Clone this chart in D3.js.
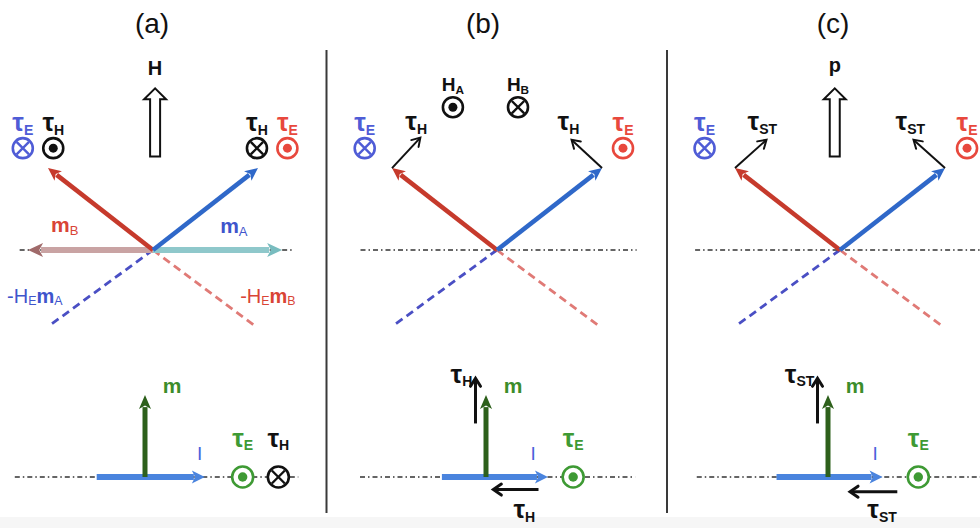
<!DOCTYPE html>
<html>
<head>
<meta charset="utf-8">
<script src="https://cdn.jsdelivr.net/npm/d3@7"></script>
<style>
  body { margin: 0; background: #fff; }
  svg { display: block; }
</style>
</head>
<body>
<svg id="fig" width="980" height="528"></svg>
<script>
// ---------------------------------------------------------------
// Vector geometry, in diagram units (1 unit = horizontal reach of a
// sublattice moment; y points up). Each panel has its own frame.
// ---------------------------------------------------------------
const panelNames = ["(a)", "(b)", "(c)"];

// sublattice moments and the exchange fields acting on them
const mA = [1.0, 0.78];
const mB = [-1.0, 0.78];
const hExA = [-1.0, -0.73];   // -H_E m_A
const hExB = [0.98, -0.73];   // -H_E m_B

// panel (a): canted moments folded onto the easy axis
const foldedX = [-1.19, 1.23];

// easy-axis extent in each panel (top row)
const topAxisSpan = [[-1.27, 1.33], [-1.30, 1.33], [-1.38, 1.33]];

// out-of-plane torque symbols, top row
const tauEBlueX = [-1.24, -1.26, -1.29];   // into the page
const tauERedX  = [1.28, 1.20, 1.21];      // out of the page
const tauHSymX  = [-0.95, 0.99];           // panel (a): out on B, into on A
const hFieldX   = [-0.42, 0.20];           // panel (b): H_A out, H_B into

// in-plane torques from the moment tips, panels (b) and (c)
const torqueEndL = [[-0.73, 1.07], [-0.70, 1.05]];
const torqueEndR = [[0.71, 1.05], [0.70, 1.05]];
const torqueName = ["H", "ST"];

// hollow arrows: applied field H in (a), polarisation p in (c)
const hollowX = [0.02, -0.05];
const hollowY = [0.89, 1.54];

// bottom row: net moment m, current I and torques
const mLength = 0.78;
const currentSpan = [[-0.46, 0.57], [-0.42, 0.59], [-0.49, 0.52]];
const botAxisSpan = [[-1.24, 1.46], [-1.20, 1.42], [-1.25, 1.45]];
const tauEGreenX = [0.93, 0.83, 0.86];
const tauHBottomX = 1.27;                          // panel (a)
const perpTorque = [-0.10, 0.51, 0.94];            // x, y from, y to
const backTorque = [[0.50, 0.07, -0.12], [0.66, 0.21, -0.14]]; // x from, x to, y

// ---------------------------------------------------------------
// Layout and styles
// ---------------------------------------------------------------
const U = 105;
const topAnchor = [[153, 250], [497, 250], [840, 250]];
const botAnchor = [[145, 477], [486, 477], [828, 477]];
const titleX = [152, 483, 833];
const dividerX = [326.5, 667];
const FONT = "'Liberation Sans', Arial, Helvetica, sans-serif";

const C = {
  red: "#c63a2c", blue: "#2f68c9",
  redLab: "#d94436", blueLab: "#3f55cc",
  redSym: "#e8483d", blueSym: "#4f5cd6",
  redDash: "#e07a76", blueDash: "#4a4fc4",
  green: "#2d601b", greenLab: "#3c8d2b", greenSym: "#3e9a34",
  cur: "#4a84de", curLab: "#4a62dc", ink: "#111"
};

const svg = d3.select("#fig");

function frame([ax, ay]) {
  return {
    x: d3.scaleLinear().domain([0, 1]).range([ax, ax + U]),
    y: d3.scaleLinear().domain([0, 1]).range([ay, ay - U])
  };
}

function solidArrow(g, x1, y1, x2, y2, o) {
  const dx = x2 - x1, dy = y2 - y1, L = Math.hypot(dx, dy);
  const ux = dx / L, uy = dy / L;
  const bx = x2 - ux * o.len, by = y2 - uy * o.len;
  g.append("line")
    .attr("x1", x1).attr("y1", y1)
    .attr("x2", bx + ux * 2).attr("y2", by + uy * 2)
    .attr("stroke", o.color).attr("stroke-width", o.width)
    .attr("opacity", o.opacity || 1);
  g.append("path")
    .attr("d", `M${x2},${y2}L${bx - uy * o.half},${by + ux * o.half}L${bx + ux * o.len * 0.25},${by + uy * o.len * 0.25}L${bx + uy * o.half},${by - ux * o.half}Z`)
    .attr("fill", o.headColor || o.color)
    .attr("opacity", o.opacity || 1);
}

function lineArrow(g, x1, y1, x2, y2, o) {
  const dx = x2 - x1, dy = y2 - y1, L = Math.hypot(dx, dy);
  const ux = dx / L, uy = dy / L;
  const bx = x2 - ux * o.len, by = y2 - uy * o.len;
  g.append("line")
    .attr("x1", x1).attr("y1", y1).attr("x2", x2 - ux).attr("y2", y2 - uy)
    .attr("stroke", o.color).attr("stroke-width", o.width);
  g.append("path")
    .attr("d", `M${bx - uy * o.half},${by + ux * o.half}L${x2},${y2}L${bx + uy * o.half},${by - ux * o.half}`)
    .attr("fill", "none").attr("stroke", o.color).attr("stroke-width", o.width)
    .attr("stroke-linejoin", "miter").attr("stroke-linecap", "round");
}

function hollowArrow(g, x, yBottom, yTop) {
  const sw = 5, hw = 11, hl = 11;
  const yh = yTop + hl;
  g.append("path")
    .attr("d", `M${x - sw},${yBottom}L${x - sw},${yh}L${x - hw},${yh}L${x},${yTop}L${x + hw},${yh}L${x + sw},${yh}L${x + sw},${yBottom}Z`)
    .attr("fill", "#fff").attr("stroke", C.ink).attr("stroke-width", 2)
    .attr("stroke-linejoin", "miter");
}

// spin symbol: "out" = dot in circle, "in" = cross in circle
function spinSymbol(g, x, y, type, color, r = 10) {
  g.append("circle").attr("cx", x).attr("cy", y).attr("r", r)
    .attr("fill", "#fff").attr("stroke", color).attr("stroke-width", 2.6);
  if (type === "out") {
    g.append("circle").attr("cx", x).attr("cy", y).attr("r", r * 0.45).attr("fill", color);
  } else {
    const d = r * 0.62;
    g.append("path")
      .attr("d", `M${x - d},${y - d}L${x + d},${y + d}M${x - d},${y + d}L${x + d},${y - d}`)
      .attr("stroke", color).attr("stroke-width", 2.4);
  }
}

// rich label: parts are [text, style], style "b" bold, "n" normal,
// "s" subscript, "sb" bold subscript
function label(g, x, y, parts, size, color, anchor = "middle", subScale = 0.62) {
  const t = g.append("text").attr("x", x).attr("y", y)
    .attr("text-anchor", anchor).attr("font-family", FONT)
    .attr("font-size", size).attr("fill", color);
  let shift = 0;
  parts.forEach(([txt, st]) => {
    const sub = st === "s" || st === "sb";
    const target = sub ? size * 0.14 : 0;
    const s = t.append("tspan").text(txt).attr("dy", target - shift);
    shift = target;
    if (sub) s.attr("font-size", size * subScale);
    if (st === "b" || st === "sb") s.attr("font-weight", "bold");
  });
  return t;
}
const tauLabel = (g, x, y, sub, color, anchor) =>
  label(g, x, y, [["τ", "b"], [sub, "sb"]], 26, color, anchor, 0.54);

// ---------------------------------------------------------------
// Frame: titles, dividers, faint bottom band
// ---------------------------------------------------------------
svg.append("rect").attr("x", 0).attr("y", 517).attr("width", 980).attr("height", 11).attr("fill", "#f6f6f6");

panelNames.forEach((name, i) => {
  svg.append("text").attr("x", titleX[i]).attr("y", 33)
    .attr("text-anchor", "middle").attr("font-family", FONT)
    .attr("font-size", 28).attr("fill", C.ink).text(name);
});
dividerX.forEach(x => {
  svg.append("line").attr("x1", x).attr("x2", x).attr("y1", 50).attr("y2", 513)
    .attr("stroke", "#3a3a3a").attr("stroke-width", 2);
});

// ---------------------------------------------------------------
// Top row: sublattice moments
// ---------------------------------------------------------------
panelNames.forEach((_, i) => {
  const g = svg.append("g");
  const f = frame(topAnchor[i]);
  const ox = f.x(0), oy = f.y(0);

  // exchange fields (dashed)
  g.append("line").attr("x1", ox).attr("y1", oy).attr("x2", f.x(hExA[0])).attr("y2", f.y(hExA[1]))
    .attr("stroke", C.blueDash).attr("stroke-width", 2.8).attr("stroke-dasharray", "8,5");
  g.append("line").attr("x1", ox).attr("y1", oy).attr("x2", f.x(hExB[0])).attr("y2", f.y(hExB[1]))
    .attr("stroke", C.redDash).attr("stroke-width", 2.8).attr("stroke-dasharray", "8,5");

  // easy axis
  g.append("line").attr("x1", f.x(topAxisSpan[i][0])).attr("x2", f.x(topAxisSpan[i][1]))
    .attr("y1", oy).attr("y2", oy)
    .attr("stroke", "#333").attr("stroke-width", 1.7).attr("stroke-dasharray", "5,3,1.5,3");

  if (i === 0) {
    solidArrow(g, ox, oy, f.x(foldedX[0]), oy, { color: "#c9a3a3", headColor: "#a06a6a", width: 6, len: 15, half: 7 });
    solidArrow(g, ox, oy, f.x(foldedX[1]), oy, { color: "#8fc8cb", headColor: "#78bcbf", width: 6, len: 15, half: 7 });
  }

  solidArrow(g, ox, oy, f.x(mB[0]), f.y(mB[1]), { color: C.red, width: 4.5, len: 13, half: 6 });
  solidArrow(g, ox, oy, f.x(mA[0]), f.y(mA[1]), { color: C.blue, width: 4.5, len: 13, half: 6 });

  // exchange torques
  const symY = f.y(0.97), labY = f.y(1.13);
  spinSymbol(g, f.x(tauEBlueX[i]), symY, "in", C.blueSym);
  tauLabel(g, f.x(tauEBlueX[i]), labY, "E", C.blueSym);
  spinSymbol(g, f.x(tauERedX[i]), symY, "out", C.redSym);
  tauLabel(g, f.x(tauERedX[i]), labY, "E", C.redSym);

  if (i === 0) {
    spinSymbol(g, f.x(tauHSymX[0]), symY, "out", C.ink);
    tauLabel(g, f.x(tauHSymX[0]), labY, "H", C.ink);
    spinSymbol(g, f.x(tauHSymX[1]), symY, "in", C.ink);
    tauLabel(g, f.x(tauHSymX[1]), labY, "H", C.ink);

    label(g, f.x(-0.84), f.y(0.17), [["m", "b"], ["B", "s"]], 21, C.redLab);
    label(g, f.x(0.77), f.y(0.16), [["m", "b"], ["A", "s"]], 21, C.blueLab);
    label(g, f.x(-1.39), f.y(-0.5), [["-H", "n"], ["E", "s"], ["m", "b"], ["A", "s"]], 20, C.blueLab, "start");
    label(g, f.x(0.83), f.y(-0.5), [["-H", "n"], ["E", "s"], ["m", "b"], ["B", "s"]], 20, C.redLab, "start");
  }
  if (i === 1) {
    spinSymbol(g, f.x(hFieldX[0]), f.y(1.36), "out", C.ink);
    label(g, f.x(hFieldX[0]), f.y(1.51), [["H", "b"], ["A", "sb"]], 19, C.ink);
    spinSymbol(g, f.x(hFieldX[1]), f.y(1.36), "in", C.ink);
    label(g, f.x(hFieldX[1]), f.y(1.51), [["H", "b"], ["B", "sb"]], 19, C.ink);
  }
  if (i > 0) {
    const k = i - 1;
    lineArrow(g, f.x(mB[0]), f.y(mB[1]), f.x(torqueEndL[k][0]), f.y(torqueEndL[k][1]), { color: C.ink, width: 2, len: 8, half: 5 });
    lineArrow(g, f.x(mA[0]), f.y(mA[1]), f.x(torqueEndR[k][0]), f.y(torqueEndR[k][1]), { color: C.ink, width: 2, len: 8, half: 5 });
    tauLabel(g, f.x(torqueEndL[k][0] - 0.04), f.y(1.14), torqueName[k], C.ink);
    tauLabel(g, f.x(torqueEndR[k][0] - 0.03), f.y(1.14), torqueName[k], C.ink);
  }
  if (i === 0 || i === 2) {
    const k = i === 0 ? 0 : 1;
    hollowArrow(g, f.x(hollowX[k]), f.y(hollowY[0]), f.y(hollowY[1]));
    label(g, f.x(hollowX[k]), f.y(i === 0 ? 1.67 : 1.70), [[i === 0 ? "H" : "p", "b"]], 20, C.ink);
  }
});

// ---------------------------------------------------------------
// Bottom row: net moment, current and torques
// ---------------------------------------------------------------
panelNames.forEach((_, i) => {
  const g = svg.append("g");
  const f = frame(botAnchor[i]);
  const oy = f.y(0);

  g.append("line").attr("x1", f.x(botAxisSpan[i][0])).attr("x2", f.x(botAxisSpan[i][1]))
    .attr("y1", oy).attr("y2", oy)
    .attr("stroke", "#333").attr("stroke-width", 1.7).attr("stroke-dasharray", "5,3,1.5,3");

  solidArrow(g, f.x(currentSpan[i][0]), oy, f.x(currentSpan[i][1]), oy, { color: C.cur, width: 6, len: 13, half: 6.5 });
  solidArrow(g, f.x(0), oy, f.x(0), f.y(mLength), { color: C.green, width: 5, len: 14, half: 6 });

  label(g, f.x(0.17), f.y(0.80), [["m", "b"]], 21, C.greenLab, "start");
  label(g, f.x(i === 0 ? 0.52 : 0.45), f.y(0.16), [["I", "n"]], 19, C.curLab);

  spinSymbol(g, f.x(tauEGreenX[i]), oy, "out", C.greenSym, 10.5);
  tauLabel(g, f.x(tauEGreenX[i]), f.y(0.29), "E", C.greenSym);

  if (i === 0) {
    spinSymbol(g, f.x(tauHBottomX), oy, "in", C.ink, 10.5);
    tauLabel(g, f.x(tauHBottomX), f.y(0.29), "H", C.ink);
  } else {
    const k = i - 1;
    lineArrow(g, f.x(perpTorque[0]), f.y(perpTorque[1]), f.x(perpTorque[0]), f.y(perpTorque[2]), { color: C.ink, width: 3, len: 8, half: 5 });
    tauLabel(g, f.x(perpTorque[0] - 0.03), f.y(0.90), torqueName[k], C.ink, "end");
    const b = backTorque[k];
    lineArrow(g, f.x(b[0]), f.y(b[2]), f.x(b[1]), f.y(b[2]), { color: C.ink, width: 3, len: 8, half: 5.5 });
    tauLabel(g, f.x((b[0] + b[1]) / 2 + 0.08), f.y(-0.39), torqueName[k], C.ink);
  }
});
</script>
</body>
</html>
